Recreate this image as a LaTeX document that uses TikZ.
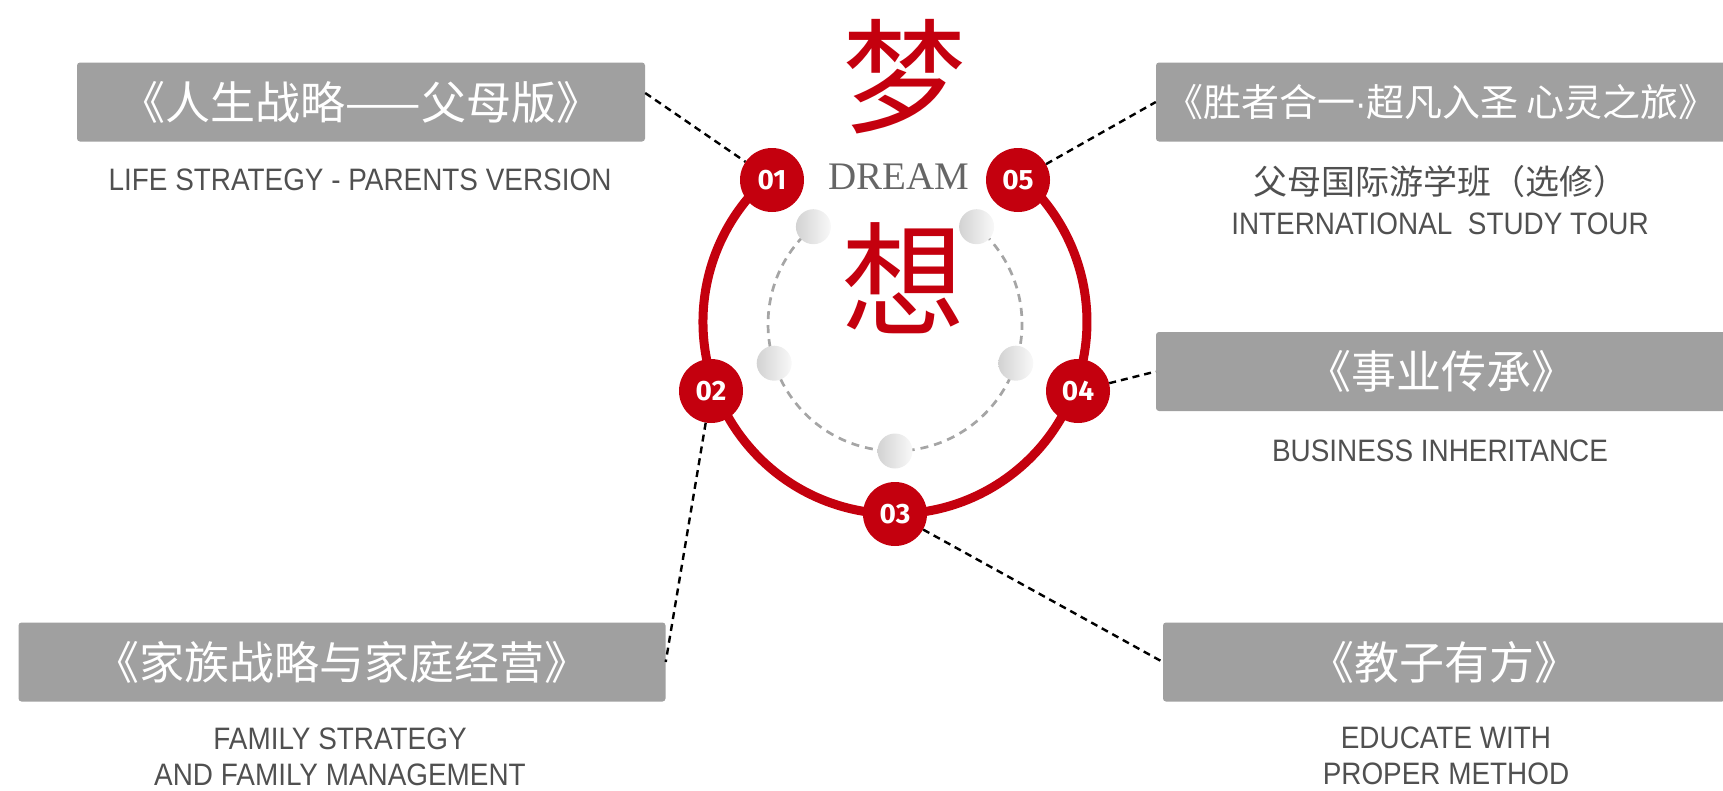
\documentclass[tikz,border=0pt]{standalone}
\usepackage{fontspec}
\setmainfont{Liberation Serif}
\newfontfamily\cjkfont{Noto Sans CJK SC}
\newfontfamily\engfont[FakeStretch=0.9]{Liberation Sans}
\newfontfamily\digitfont{Fira Sans}
\definecolor{dreamred}{RGB}{196,0,14}
\definecolor{boxgray}{RGB}{160,160,160}
\definecolor{subgray}{RGB}{80,80,80}
\definecolor{dashgray}{RGB}{165,165,165}
\begin{document}
\begin{tikzpicture}[x=1pt, y=1pt,
  box/.style={rectangle, rounded corners=3pt, fill=boxgray, text=white, minimum width=567pt, minimum height=79pt, font=\cjkfont\fontsize{45pt}{50pt}\selectfont},
  sub/.style={text=subgray, align=center, font=\engfont\fontsize{31pt}{36pt}\selectfont},
  badge/.style={circle, fill=dreamred, text=white, minimum size=64pt, font=\digitfont\bfseries\fontsize{28pt}{28pt}\selectfont},
  ball/.style={circle, minimum size=35pt, left color=gray!35, right color=gray!5},
  link/.style={black, line width=2.4pt, dash pattern=on 7pt off 5pt},
  big/.style={text=dreamred, font=\cjkfont\fontsize{124pt}{124pt}\selectfont}]
\tikzstyle{every node}+=[inner sep=0pt]
\useasboundingbox (0,0) rectangle (1723,-790);
% centre
\draw [dreamred, line width=9pt] (769,-177) arc (131:409:192);
\draw [dashgray, line width=2.7pt, dash pattern=on 8pt off 6pt] (813.4,-226.7) arc (130:410:127);
\node [ball] (p1) at (813.4,-226.7) {};
\node [ball] (p2) at (774.2,-363.2) {};
\node [ball] (p3) at (895,-451) {};
\node [ball] (p4) at (1015.8,-363.2) {};
\node [ball] (p5) at (976.6,-226.7) {};
\node [big] (meng) at (904,-77) {梦};
\node [big] (xiang) at (903,-278) {想};
\node [text=gray!80!black, font=\fontsize{39pt}{39pt}\selectfont] (dream) at (898.5,-177) {DREAM};
\node [badge] (b1) at (772,-180) {01};
\node [badge] (b2) at (711,-391) {02};
\node [badge] (b3) at (895,-514) {03};
\node [badge] (b4) at (1078,-391) {04};
\node [badge] (b5) at (1018,-180) {05};
% boxes
\node [box, minimum width=568pt] (box1) at (361,-102) {《人生战略——父母版》};
\node [sub] (sub1) at (360,-180) {LIFE STRATEGY - PARENTS VERSION};
\node [box, minimum width=647pt] (box2) at (342,-662) {《家族战略与家庭经营》};
\node [sub] (sub2) at (340,-757) {FAMILY STRATEGY\\AND FAMILY MANAGEMENT};
\node [box, minimum width=562pt] (box3) at (1444,-662) {《教子有方》};
\node [sub] (sub3) at (1446,-756) {EDUCATE WITH\\PROPER METHOD};
\node [box, minimum width=570pt] (box4) at (1441,-371.5) {《事业传承》};
\node [sub] (sub4) at (1440,-451) {BUSINESS INHERITANCE};
\node [box, minimum width=570pt, font=\cjkfont\fontsize{38pt}{44pt}\selectfont] (box5) at (1441,-102) {《胜者合一{\engfont·}超凡入圣 心灵之旅》};
\node [sub, font=\cjkfont\fontsize{34pt}{38pt}\selectfont] (sub5) at (1440,-182) {父母国际游学班（选修）};
\node [sub] (sub6) at (1440,-224) {INTERNATIONAL\ \ STUDY TOUR};
% links
\draw [link] ([yshift=9pt]box1.east) -- (b1);
\draw [link] (b2) -- (box2.east);
\draw [link] (b3) -- (box3.west);
\draw [link] (b4) -- (box4.west);
\draw [link] (b5) -- (box5.west);
\end{tikzpicture}
\end{document}
